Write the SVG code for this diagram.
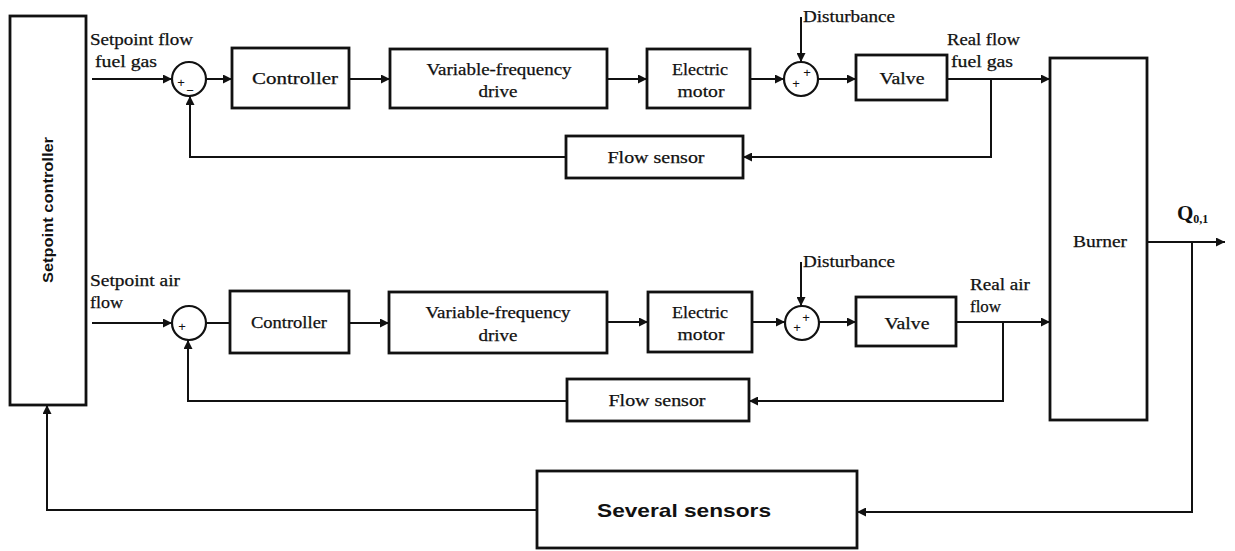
<svg xmlns="http://www.w3.org/2000/svg" width="1235" height="551" viewBox="0 0 1235 551">
<style>
.box{fill:#fff;stroke:#111;stroke-width:2.8}
.sum{fill:#fff;stroke:#111;stroke-width:2.2}
.ln{fill:none;stroke:#111;stroke-width:2}
.t{font-family:"Liberation Serif",serif;font-size:16px;fill:#111;stroke:#111;stroke-width:0.25}
.c{text-anchor:middle}
.sg{font-family:"Liberation Sans",sans-serif;font-size:13px;fill:#111;text-anchor:middle}
.s{font-family:"Liberation Sans",sans-serif;fill:#111}
</style>
<defs>
<marker id="ar" viewBox="0 0 10 10" refX="10" refY="5" markerWidth="10" markerHeight="9" markerUnits="userSpaceOnUse" orient="auto">
<path d="M0,0 L10,5 L0,10 z" fill="#111"/>
</marker>
</defs>
<rect width="1235" height="551" fill="#fff"/>

<g id="setpoint-controller">
<rect class="box" x="10" y="16" width="76" height="389"/>
<text class="s" font-size="14" font-weight="bold" text-anchor="middle" transform="translate(53,210) rotate(-90)" textLength="146" lengthAdjust="spacingAndGlyphs">Setpoint controller</text>
</g>

<g id="labels">
<text class="t" x="90" y="45" textLength="103" lengthAdjust="spacingAndGlyphs">Setpoint flow</text>
<text class="t" x="95" y="67" textLength="62" lengthAdjust="spacingAndGlyphs">fuel gas</text>
<text class="t" x="90" y="286" textLength="90" lengthAdjust="spacingAndGlyphs">Setpoint air</text>
<text class="t" x="90" y="308" textLength="33" lengthAdjust="spacingAndGlyphs">flow</text>
<text class="t" x="803" y="22" textLength="92" lengthAdjust="spacingAndGlyphs">Disturbance</text>
<text class="t" x="803" y="267" textLength="92" lengthAdjust="spacingAndGlyphs">Disturbance</text>
<text class="t" x="947" y="45" textLength="73" lengthAdjust="spacingAndGlyphs">Real flow</text>
<text class="t" x="951" y="67" textLength="62" lengthAdjust="spacingAndGlyphs">fuel gas</text>
<text class="t" x="970" y="290" textLength="60" lengthAdjust="spacingAndGlyphs">Real air</text>
<text class="t" x="970" y="312" textLength="31" lengthAdjust="spacingAndGlyphs">flow</text>
<text font-family="Liberation Serif,serif" font-weight="bold" font-size="21" fill="#111" x="1177" y="220">Q<tspan font-size="12" dy="3">0,1</tspan></text>
</g>

<g id="sum1-top">
<circle class="sum" cx="189" cy="79" r="17"/>
<text class="sg" x="181" y="87">+</text>
<text class="sg" x="190" y="95">−</text>
</g>
<g id="controller-top">
<rect class="box" x="232" y="48" width="117" height="60"/>
<text class="t c" x="295" y="84" textLength="86" lengthAdjust="spacingAndGlyphs">Controller</text>
</g>
<g id="vfd-top">
<rect class="box" x="390" y="49" width="217" height="59"/>
<text class="t c" x="499" y="75" textLength="145" lengthAdjust="spacingAndGlyphs">Variable-frequency</text>
<text class="t c" x="498" y="97" textLength="39" lengthAdjust="spacingAndGlyphs">drive</text>
</g>
<g id="motor-top">
<rect class="box" x="647" y="49" width="103" height="59"/>
<text class="t c" x="700" y="75" textLength="56" lengthAdjust="spacingAndGlyphs">Electric</text>
<text class="t c" x="701" y="97" textLength="47" lengthAdjust="spacingAndGlyphs">motor</text>
</g>
<g id="sum2-top">
<circle class="sum" cx="801" cy="79" r="17"/>
<text class="sg" x="807" y="77">+</text>
<text class="sg" x="796" y="88">+</text>
</g>
<g id="valve-top">
<rect class="box" x="856" y="55" width="91" height="45"/>
<text class="t c" x="902" y="84" textLength="45" lengthAdjust="spacingAndGlyphs">Valve</text>
</g>
<g id="flow-sensor-top">
<rect class="box" x="566" y="136" width="177" height="42"/>
<text class="t c" x="656" y="163" textLength="97" lengthAdjust="spacingAndGlyphs">Flow sensor</text>
</g>

<g id="sum1-bottom">
<circle class="sum" cx="189" cy="323" r="17"/>
<text class="sg" x="182" y="331">+</text>
</g>
<g id="controller-bottom">
<rect class="box" x="230" y="291" width="119" height="62"/>
<text class="t c" x="289" y="328" textLength="76" lengthAdjust="spacingAndGlyphs">Controller</text>
</g>
<g id="vfd-bottom">
<rect class="box" x="389" y="292" width="218" height="61"/>
<text class="t c" x="498" y="318" textLength="145" lengthAdjust="spacingAndGlyphs">Variable-frequency</text>
<text class="t c" x="498" y="341" textLength="39" lengthAdjust="spacingAndGlyphs">drive</text>
</g>
<g id="motor-bottom">
<rect class="box" x="648" y="292" width="104" height="60"/>
<text class="t c" x="700" y="318" textLength="56" lengthAdjust="spacingAndGlyphs">Electric</text>
<text class="t c" x="701" y="340" textLength="47" lengthAdjust="spacingAndGlyphs">motor</text>
</g>
<g id="sum2-bottom">
<circle class="sum" cx="802" cy="323" r="17"/>
<text class="sg" x="806" y="322">+</text>
<text class="sg" x="797" y="332">+</text>
</g>
<g id="valve-bottom">
<rect class="box" x="856" y="297" width="100" height="49"/>
<text class="t c" x="907" y="329" textLength="45" lengthAdjust="spacingAndGlyphs">Valve</text>
</g>
<g id="flow-sensor-bottom">
<rect class="box" x="567" y="379" width="182" height="42"/>
<text class="t c" x="657" y="406" textLength="97" lengthAdjust="spacingAndGlyphs">Flow sensor</text>
</g>

<g id="burner">
<rect class="box" x="1050" y="58" width="97" height="362"/>
<text class="t c" x="1100" y="247" textLength="54" lengthAdjust="spacingAndGlyphs">Burner</text>
</g>

<g id="several-sensors">
<rect class="box" x="537" y="471" width="320" height="77"/>
<text class="s" font-size="19" font-weight="bold" x="597" y="517" textLength="174" lengthAdjust="spacingAndGlyphs">Several sensors</text>
</g>

<g id="connectors">
<path class="ln" d="M92,79 H172" marker-end="url(#ar)"/>
<path class="ln" d="M206,79 H232" marker-end="url(#ar)"/>
<path class="ln" d="M349,79 H390" marker-end="url(#ar)"/>
<path class="ln" d="M607,79 H647" marker-end="url(#ar)"/>
<path class="ln" d="M750,79 H784" marker-end="url(#ar)"/>
<path class="ln" d="M818,79 H856" marker-end="url(#ar)"/>
<path class="ln" d="M947,79 H1050" marker-end="url(#ar)"/>
<path class="ln" d="M801,17 V62" marker-end="url(#ar)"/>
<path class="ln" d="M991,79 V157 H743" marker-end="url(#ar)"/>
<path class="ln" d="M566,157 H190 V96" marker-end="url(#ar)"/>

<path class="ln" d="M92,323 H172" marker-end="url(#ar)"/>
<path class="ln" d="M206,323 H230"/>
<path class="ln" d="M349,323 H389" marker-end="url(#ar)"/>
<path class="ln" d="M607,322 H648" marker-end="url(#ar)"/>
<path class="ln" d="M752,322 H785" marker-end="url(#ar)"/>
<path class="ln" d="M819,322 H856" marker-end="url(#ar)"/>
<path class="ln" d="M956,322 H1050" marker-end="url(#ar)"/>
<path class="ln" d="M801,262 V306" marker-end="url(#ar)"/>
<path class="ln" d="M1003,322 V401 H749" marker-end="url(#ar)"/>
<path class="ln" d="M567,401 H188 V340" marker-end="url(#ar)"/>

<path class="ln" d="M1147,242 H1225" marker-end="url(#ar)"/>
<path class="ln" d="M1192,242 V512 H857" marker-end="url(#ar)"/>
<path class="ln" d="M537,510 H47 V405" marker-end="url(#ar)"/>
</g>
</svg>
